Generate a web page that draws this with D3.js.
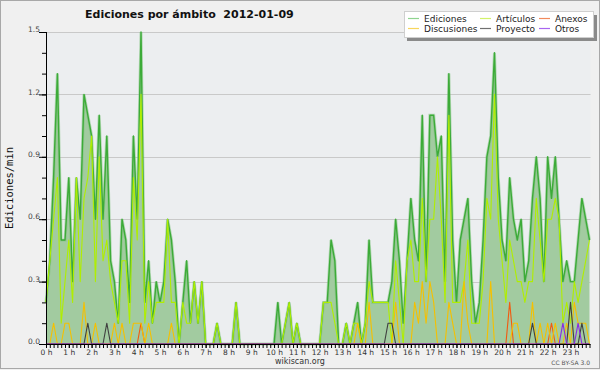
<!DOCTYPE html>
<html>
<head>
<meta charset="utf-8">
<script src="https://cdn.jsdelivr.net/npm/d3@7"></script>
<style>
  body { margin: 0; background: #f0f0f0; }
  svg { display: block; font-family: "DejaVu Sans", sans-serif; }
</style>
</head>
<body>
<svg id="chart" width="600" height="370"></svg>
<script>
// one value every 10 minutes, 144 per day (edits / minute)
const ediciones = [
  0.2,0.4,0.8,1.3,0.5,0.5,0.8,0.3,0.8,0.6,1.2,1.1,
  1.0,0.6,1.1,0.6,1.0,0.4,0.3,0.1,0.6,0.5,0.2,1.0,
  0.6,1.5,0.2,0.4,0.1,0.3,0.2,0.3,0.6,0.5,0.3,0,
  0.2,0.4,0.1,0.3,0.1,0.3,0,0,0,0.1,0,0,
  0,0,0.2,0,0,0,0,0,0,0,0,0,
  0,0.2,0,0.1,0.2,0,0.1,0,0,0,0,0,
  0,0.2,0.2,0.5,0.4,0,0,0.1,0,0.1,0.2,0,
  0.1,0.5,0.2,0.2,0.2,0.2,0.2,0.3,0.6,0.4,0.1,0.4,
  0.7,0.5,0.4,1.1,0.3,1.1,1.1,0.9,1.0,0.3,1.3,0.5,
  0.2,0.5,0.6,0.7,0.3,0.1,0.2,0.5,0.9,1.0,1.4,0.8,
  0.5,0.4,0.8,0.6,0.5,0.6,0.3,0.4,0.7,0.9,0.7,0.3,
  0.9,0.7,0.9,0.6,0.3,0.4,0.3,0.3,0.5,0.7,0.6,0.5
];
const articulos = [
  0.2,0.4,0.6,0.8,0.1,0.3,0.5,0.2,0.8,0.3,0.7,0.8,
  1.0,0.3,0.9,0.4,0.5,0.3,0.2,0.1,0.4,0.4,0.1,0.8,
  0.5,1.2,0.1,0.3,0.1,0.2,0.2,0.2,0.6,0.2,0.2,0,
  0.2,0.1,0.1,0.3,0.1,0.3,0,0,0,0.1,0,0,
  0,0,0.2,0,0,0,0,0,0,0,0,0,
  0,0,0,0.1,0.2,0,0.1,0,0,0,0,0,
  0,0.2,0.2,0.2,0.1,0,0,0.1,0,0.1,0.1,0,
  0.1,0.3,0.2,0.2,0.2,0.2,0.2,0,0.4,0.2,0,0.4,
  0.5,0.3,0.3,0.7,0.3,0.6,0.6,0.9,0.6,0.2,1.1,0.2,
  0.2,0.2,0.3,0.5,0.1,0.1,0.1,0.3,0.7,0.6,1.2,0.6,
  0.4,0.2,0.5,0.4,0.3,0.3,0.2,0.3,0.3,0.7,0.5,0.3,
  0.6,0.6,0.7,0.6,0.1,0.2,0.1,0.3,0.2,0.3,0.4,0.5
];
const anexos = [
  0,0,0,0,0,0,0,0,0,0,0,0,
  0,0,0,0,0,0,0,0,0,0,0,0,
  0,0.1,0,0,0,0,0,0,0,0,0,0,
  0,0,0,0,0,0,0,0,0,0,0,0,
  0,0,0,0,0,0,0,0,0,0,0,0,
  0,0,0,0,0,0,0,0,0,0,0,0,
  0,0,0,0,0,0,0,0,0,0,0,0,
  0,0,0,0,0,0,0,0,0,0,0,0,
  0,0,0,0,0,0,0,0,0,0,0,0,
  0,0,0,0,0,0,0,0,0,0,0,0,
  0,0,0.2,0,0,0,0,0,0,0,0,0,
  0,0.1,0,0,0,0,0,0,0,0,0,0
];
const discusiones = [
  0,0,0.1,0,0,0.1,0.1,0,0,0,0.2,0,
  0,0.1,0,0,0,0,0.1,0,0.1,0,0,0.1,
  0.1,0.1,0,0.1,0,0,0,0,0,0.1,0,0,
  0,0,0,0,0,0,0,0,0,0,0,0,
  0,0,0,0,0,0,0,0,0,0,0,0,
  0,0,0,0,0,0,0,0,0,0,0,0,
  0,0,0,0,0,0,0,0,0,0,0.1,0,
  0,0.2,0,0,0,0,0,0,0.2,0,0,0,
  0,0.2,0.1,0.3,0.1,0.3,0.2,0,0,0,0.2,0.1,
  0,0,0.3,0.1,0,0,0,0,0,0.3,0,0,
  0,0,0,0.1,0.1,0,0,0,0.2,0,0.1,0,
  0.1,0,0.1,0,0,0.1,0,0.2,0.1,0.1,0.1,0
];
const proyecto = [
  0,0,0,0,0,0,0,0,0,0,0,0.1,
  0,0,0,0,0.1,0,0,0,0,0,0,0,
  0,0,0,0,0,0,0,0,0,0,0,0,
  0,0,0,0,0,0,0,0,0,0,0,0,
  0,0,0,0,0,0,0,0,0,0,0,0,
  0,0,0,0,0,0,0,0,0,0,0,0,
  0,0,0,0,0,0,0,0,0,0,0,0,
  0,0,0,0,0,0,0.1,0.1,0,0,0,0,
  0,0,0,0,0,0,0,0,0,0,0,0,
  0,0,0,0,0,0,0,0,0,0,0,0,
  0,0,0,0,0,0,0,0,0.1,0,0,0,
  0,0,0,0,0,0,0.2,0,0,0.1,0,0
];
const otros = [
  0,0,0,0,0,0,0,0,0,0,0,0,
  0,0,0,0,0,0,0,0,0,0,0,0,
  0,0,0,0,0,0,0,0,0,0,0,0,
  0,0,0,0,0,0,0,0,0,0,0,0,
  0,0,0,0,0,0,0,0,0,0,0,0,
  0,0,0,0,0,0,0,0,0,0,0,0,
  0,0,0,0,0,0,0,0,0,0,0,0,
  0,0,0,0,0,0,0,0,0,0,0,0,
  0,0,0,0,0,0,0,0,0,0,0,0,
  0,0,0,0,0,0,0,0,0,0,0,0,
  0,0,0,0,0,0,0,0,0,0,0,0,
  0,0,0,0,0.1,0,0,0,0.1,0,0,0
];

const hourLabels = ["0 h","1 h","2 h","3 h","4 h","5 h","6 h","7 h","8 h","9 h","10 h","11 h",
  "12 h","13 h","14 h","15 h","16 h","17 h","18 h","19 h","20 h","21 h","22 h","23 h"];
const yTicks = [0.0, 0.3, 0.6, 0.9, 1.2, 1.5];
const yMinorTicks = [0,0.1,0.2,0.3,0.4,0.5,0.6,0.7,0.8,0.9,1.0,1.1,1.2,1.3,1.4,1.5];

const series = [
  { name: "Ediciones",   values: ediciones,   color: "#3cab38", legend: "#8fd48f" },
  { name: "Artículos",   values: articulos,   color: "#b0ee00", legend: "#d2f26a" },
  { name: "Anexos",      values: anexos,      color: "#f25a10", legend: "#f28a5c" },
  { name: "Discusiones", values: discusiones, color: "#f5c000", legend: "#f7d65c" },
  { name: "Proyecto",    values: proyecto,    color: "#404040", legend: "#707070" },
  { name: "Otros",       values: otros,       color: "#8a2be2", legend: "#a865f0" }
];

const svg = d3.select("#chart");
const W = 600, H = 370;
const plotL = 46, plotR = 589.5, plotT = 32, plotB = 344;

svg.append("rect").attr("x", 0.5).attr("y", 0.5).attr("width", W - 1).attr("height", H - 2)
  .attr("fill", "#f0f0f0").attr("stroke", "#a8a8a8");

const x = d3.scaleLinear().domain([0, ediciones.length - 1]).range([plotL, plotR]);
const y = d3.scaleLinear().domain([0, 1.5]).range([plotB, plotT]);

// plot background + grid
svg.append("rect").attr("x", plotL).attr("y", plotT)
  .attr("width", plotR - plotL + 1).attr("height", plotB - plotT)
  .attr("fill", "#eceef0");

svg.append("g").selectAll("line").data(yTicks.slice(1)).join("line")
  .attr("x1", plotL).attr("x2", plotR + 1)
  .attr("y1", d => Math.round(y(d)) + 0.5).attr("y2", d => Math.round(y(d)) + 0.5)
  .attr("stroke", "#c9c9c9");

// Ediciones area
const area = d3.area().x((d, i) => x(i)).y0(plotB).y1(d => y(d));
const line = d3.line().x((d, i) => x(i)).y(d => y(d));

svg.append("path").datum(ediciones).attr("d", area)
  .attr("fill", "#a2cba0");

series.forEach((s, k) => {
  if (k === 0) {
    svg.append("path").datum(s.values).attr("d", line)
      .attr("fill", "none").attr("stroke", "#7cc27a").attr("stroke-width", 3).attr("opacity", 0.5);
  }
  svg.append("path").datum(s.values).attr("d", line)
    .attr("fill", "none").attr("stroke", s.color)
    .attr("stroke-width", k === 0 ? 1.4 : 1.1)
    .attr("stroke-linejoin", "round");
});

// axes
const xMinor = d3.axisBottom(x).tickValues(d3.range(0, 144)).tickSize(4).tickFormat("");
svg.append("g").attr("transform", `translate(0,${plotB})`).call(xMinor)
  .call(g => g.select(".domain").remove())
  .selectAll("line").attr("stroke", "#000");

const xHours = d3.axisBottom(x).tickValues(hourLabels.map((d, i) => i * 6))
  .tickSize(4).tickFormat((d, i) => hourLabels[i]).tickPadding(2);
svg.append("g").attr("transform", `translate(0,${plotB})`).call(xHours)
  .call(g => g.select(".domain").remove())
  .call(g => g.selectAll("line").attr("stroke", "#000"))
  .call(g => g.selectAll("text").attr("font-family", "DejaVu Sans").attr("font-size", 7.5).attr("fill", "#333"));

const yMinor = d3.axisLeft(y).tickValues(yMinorTicks).tickSize(4).tickFormat("");
svg.append("g").attr("transform", `translate(${plotL},0)`).call(yMinor)
  .call(g => g.select(".domain").remove())
  .selectAll("line").attr("stroke", "#000");

const yMajor = d3.axisLeft(y).tickValues(yTicks).tickSize(7).tickPadding(-1).tickFormat(d3.format(".1f"));
svg.append("g").attr("transform", `translate(${plotL},0)`).call(yMajor)
  .call(g => g.select(".domain").remove())
  .call(g => g.selectAll("line").attr("stroke", "#000"))
  .call(g => g.selectAll("text").attr("font-family", "DejaVu Sans").attr("font-size", 7.5)
    .attr("fill", "#444").attr("dy", "-0.05em"));

svg.append("line").attr("x1", plotL + 0.5).attr("x2", plotL + 0.5).attr("y1", plotT).attr("y2", plotB + 1)
  .attr("stroke", "#000");
svg.append("line").attr("x1", plotL).attr("x2", plotR + 1).attr("y1", plotB + 0.5).attr("y2", plotB + 0.5)
  .attr("stroke", "#000");

// title & labels
svg.append("text").attr("x", 85).attr("y", 18)
  .attr("font-size", 11).attr("font-weight", "bold").attr("fill", "#111")
  .style("white-space", "pre")
  .text("Ediciones por ámbito  2012-01-09");

svg.append("text").attr("transform", "translate(13,188) rotate(-90)")
  .attr("text-anchor", "middle").attr("font-family", "DejaVu Sans Mono")
  .attr("font-size", 10.5).attr("fill", "#111").text("Ediciones/min");

svg.append("text").attr("x", 300).attr("y", 364).attr("text-anchor", "middle")
  .attr("font-size", 8).attr("fill", "#333").text("wikiscan.org");

svg.append("text").attr("x", 590).attr("y", 365).attr("text-anchor", "end")
  .attr("font-size", 6).attr("fill", "#555").text("CC BY-SA 3.0");

// legend
const lg = svg.append("g");
lg.append("rect").attr("x", 407).attr("y", 15).attr("width", 190).attr("height", 26).attr("fill", "#8a8a8a");
lg.append("rect").attr("x", 404.5).attr("y", 11.5).attr("width", 189).attr("height", 26)
  .attr("fill", "#fff").attr("stroke", "#cfcfcf");

const legendOrder = ["Ediciones", "Discusiones", "Artículos", "Proyecto", "Anexos", "Otros"];
const colX = [408, 480, 539];
legendOrder.forEach((name, i) => {
  const s = series.find(d => d.name === name);
  const cx = colX[Math.floor(i / 2)];
  const ry = i % 2 === 0 ? 18.5 : 28.5;
  lg.append("line").attr("x1", cx).attr("x2", cx + 11).attr("y1", ry).attr("y2", ry)
    .attr("stroke", s.legend).attr("stroke-width", 1.2);
  lg.append("text").attr("x", cx + 16).attr("y", ry + 3.5)
    .attr("font-size", 9).attr("fill", "#222").text(name);
});
</script>
</body>
</html>
